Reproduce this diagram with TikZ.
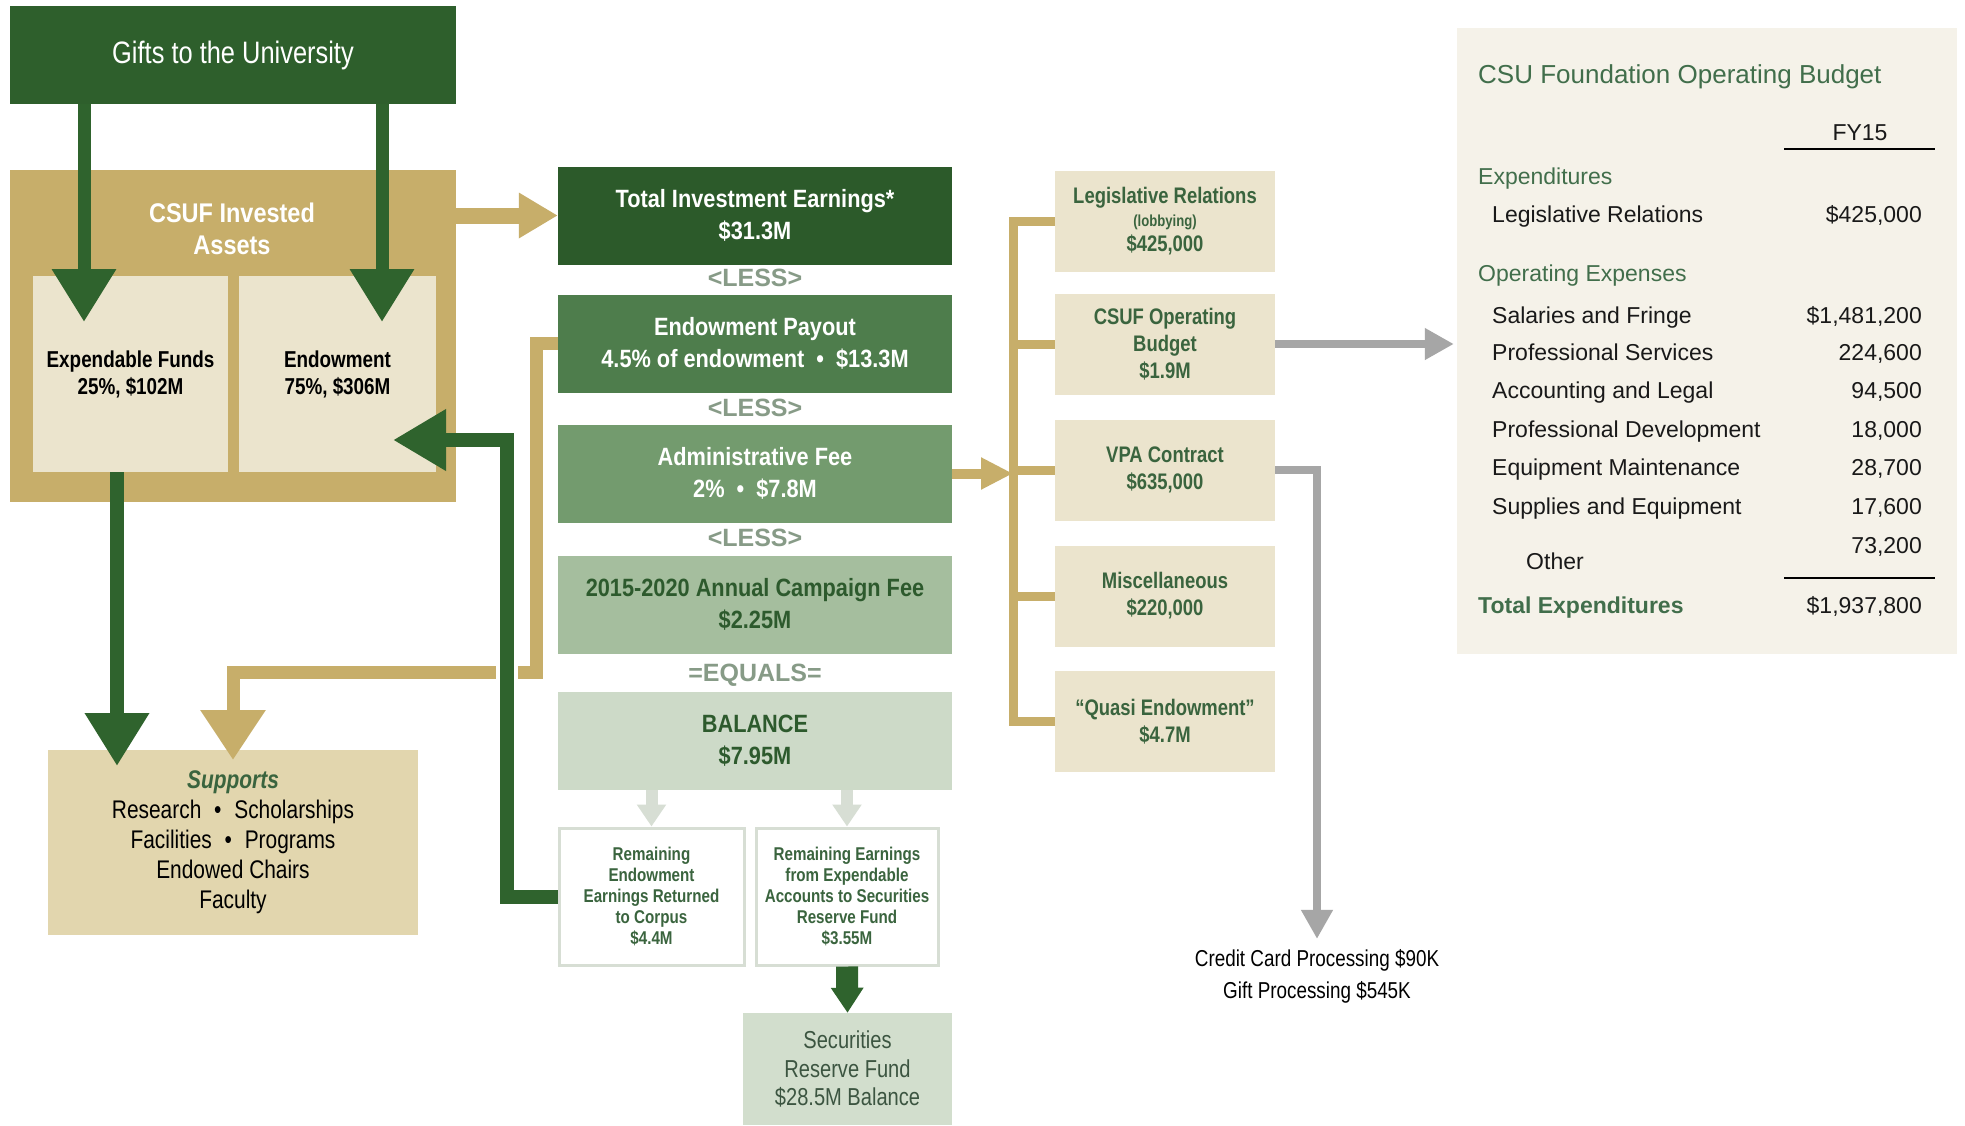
\documentclass[tikz,border=0pt]{standalone}
\usepackage{fontspec}
\setmainfont{Liberation Sans}[FakeStretch=0.82]
\newfontfamily\widefont{Liberation Sans}[FakeStretch=0.87]
\newfontfamily\tablefont{Liberation Sans}
\usetikzlibrary{arrows.meta}

\definecolor{giftgreen}{HTML}{2E5F2C}
\definecolor{totalgreen}{HTML}{2C5A2A}
\definecolor{payoutgreen}{HTML}{4E7D4C}
\definecolor{feegreen}{HTML}{739B6E}
\definecolor{campgreen}{HTML}{A5BE9E}
\definecolor{balgreen}{HTML}{CDDAC8}
\definecolor{resgreen}{HTML}{D2DECD}
\definecolor{arrowgreen}{HTML}{2F632D}
\definecolor{goldtan}{HTML}{C7AE6A}
\definecolor{cream}{HTML}{EBE4CD}
\definecolor{supbeige}{HTML}{E2D6AE}
\definecolor{panel}{HTML}{F5F2E9}
\definecolor{lessgray}{HTML}{879B87}
\definecolor{arrowgray}{HTML}{A6A6A6}
\definecolor{palegray}{HTML}{D7DED4}
\definecolor{textgreen}{HTML}{3A643E}
\definecolor{darkgreen}{HTML}{2D5A2D}
\definecolor{tablegreen}{HTML}{416E4B}
\definecolor{reservetext}{HTML}{3C5541}

\begin{document}
\begin{tikzpicture}[x=1pt, y=-1pt,
		every node/.style={inner sep=0pt, align=center},
		flowbox/.style={fill=#1, minimum width=394pt, minimum height=98pt},
		whitetext/.style={text=white, font=\widefont\bfseries\fontsize{25}{32}\selectfont},
		darktext/.style={text=darkgreen, font=\widefont\bfseries\fontsize{25}{32}\selectfont},
		lesslabel/.style={text=lessgray, font=\tablefont\bfseries\fontsize{25}{28}\selectfont},
		creambox/.style={fill=cream, minimum width=220pt, minimum height=101pt, text=textgreen,
			font=\bfseries\fontsize{22.5}{27}\selectfont},
		restbox/.style={draw=palegray, line width=3pt, fill=white, minimum height=137pt,
			text=textgreen, font=\bfseries\fontsize{18.5}{21}\selectfont},
		rowtext/.style={text=black!90, font=\tablefont\fontsize{23}{28}\selectfont},
		headtext/.style={text=tablegreen, font=\tablefont\fontsize{23}{28}\selectfont},
		greenarrow/.style={draw=arrowgreen, line width=14pt, -{Triangle[length=53pt,width=61pt]}},
		tanarrow/.style={draw=goldtan, line width=13pt, -{Triangle[length=50pt,width=62pt]}},
		tanline/.style={draw=goldtan, line width=9pt},
		grayarrow/.style={draw=arrowgray, line width=8pt, -{Triangle[length=29pt,width=30pt]}},
		palearrow/.style={draw=palegray, line width=12pt, -{Triangle[length=22pt,width=28pt]}}
	]

	\fill[white] (0,0) rectangle (1965,1125);
	\useasboundingbox (0,0) rectangle (1965,1125);

	% left column
	\node[fill=giftgreen, minimum width=446pt, minimum height=98pt, text=white,
		font=\fontsize{31}{36}\selectfont] (gifts) at (233,55) {Gifts to the University};
	\node[fill=goldtan, minimum width=446pt, minimum height=332pt] (assets) at (233,336) {};
	\node[text=white, font=\widefont\bfseries\fontsize{27}{32}\selectfont] (assetstitle) at (232,229)
		{CSUF Invested\\Assets};
	\node[fill=cream, minimum width=195pt, minimum height=196pt,
		font=\bfseries\fontsize{23}{27}\selectfont] (expend) at (130.5,374)
		{Expendable Funds\\25\%, \$102M};
	\node[fill=cream, minimum width=197pt, minimum height=196pt,
		font=\bfseries\fontsize{23}{27}\selectfont] (endow) at (337.5,374)
		{Endowment\\75\%, \$306M};
	\node[fill=supbeige, minimum width=370pt, minimum height=185pt,
		font=\fontsize{25.5}{30}\selectfont] (supports) at (233,842)
		{{\color{textgreen}\bfseries\itshape Supports}\\
		Research\hspace{7pt} • \hspace{7pt}Scholarships\\
		Facilities\hspace{7pt} • \hspace{7pt}Programs\\
		Endowed Chairs\\Faculty};

	% middle column
	\node[flowbox=totalgreen, whitetext] (total) at (755,215.5)
		{Total Investment Earnings*\\\$31.3M};
	\node[lesslabel] (less1) at (755,278) {<LESS>};
	\node[flowbox=payoutgreen, whitetext] (payout) at (755,343.5)
		{Endowment Payout\\4.5\% of endowment\hspace{6pt} • \hspace{6pt}\$13.3M};
	\node[lesslabel] (less2) at (755,408) {<LESS>};
	\node[flowbox=feegreen, whitetext] (adminfee) at (755,473.5)
		{Administrative Fee\\2\%\hspace{6pt} • \hspace{6pt}\$7.8M};
	\node[lesslabel] (less3) at (755,538) {<LESS>};
	\node[flowbox=campgreen, darktext] (campaign) at (755,604.5)
		{2015-2020 Annual Campaign Fee\\\$2.25M};
	\node[lesslabel] (equals) at (755,675) {=EQUALS=};
	\node[flowbox=balgreen, darktext] (balance) at (755,741) {BALANCE\\\$7.95M};

	\node[restbox, minimum width=185pt] (retcorpus) at (651.5,896.5)
		{Remaining\\Endowment\\Earnings Returned\\to Corpus\\\$4.4M};
	\node[restbox, minimum width=182pt] (retreserve) at (847,896.5)
		{Remaining Earnings\\from Expendable\\Accounts to Securities\\Reserve Fund\\\$3.55M};
	\node[fill=resgreen, minimum width=209pt, minimum height=112pt, text=reservetext,
		font=\fontsize{24.5}{28.5}\selectfont] (reserve) at (847.5,1069)
		{Securities\\Reserve Fund\\\$28.5M Balance};

	% right column
	\node[creambox] (legrel) at (1165,221.5)
		{Legislative Relations\\[-4pt]{\fontsize{16}{17}\selectfont (lobbying)}\\[-2pt]\$425,000};
	\node[creambox] (opbudget) at (1165,344) {CSUF Operating\\Budget\\\$1.9M};
	\node[creambox] (vpa) at (1165,470) {VPA Contract\\\$635,000};
	\node[creambox] (misc) at (1165,596) {Miscellaneous\\\$220,000};
	\node[creambox] (quasi) at (1165,721.5) {“Quasi Endowment”\\\$4.7M};
	\node[font=\fontsize{23}{32}\selectfont] (ccard) at (1317,976)
		{Credit Card Processing \$90K\\Gift Processing \$545K};

	% budget table
	\node[fill=panel, minimum width=500pt, minimum height=626pt] (budget) at (1707,341) {};
	\node[anchor=base west, text=tablegreen, font=\tablefont\fontsize{26}{30}\selectfont]
		(btitle) at (1478,83) {CSU Foundation Operating Budget};
	\node[rowtext, anchor=base] (fy) at (1860,140) {FY15};
	\draw[line width=2pt] (1784,149) coordinate (fyl) -- (1935,149) coordinate (fyr);
	\node[headtext, anchor=base west] (hexp) at (1478,184) {Expenditures};
	\node[headtext, anchor=base west] (hops) at (1478,281) {Operating Expenses};
	\foreach \lbl/\amt/\yy [count=\i] in {
			{Legislative Relations}/{\$425,000}/214,
			{Salaries and Fringe}/{\$1,481,200}/315,
			{Professional Services}/{224,600}/352,
			{Accounting and Legal}/{94,500}/390,
			{Professional Development}/{18,000}/429,
			{Equipment Maintenance}/{28,700}/467,
			{Supplies and Equipment}/{17,600}/506}
		{
			\node[rowtext, anchor=base west] (item\i) at (1492,\yy+8) {\lbl};
			\node[rowtext, anchor=base east] (amt\i) at (1922,\yy+8) {\amt};
		}
	\node[rowtext, anchor=base east] (amtother) at (1922,553) {73,200};
	\node[rowtext, anchor=base west] (itemother) at (1526,569) {Other};
	\draw[line width=2pt] (1784,578) -- (1935,578);
	\node[headtext, anchor=base west, font=\tablefont\bfseries\fontsize{23}{28}\selectfont]
		(htotal) at (1478,613) {Total Expenditures};
	\node[rowtext, anchor=base east] (amttotal) at (1922,613) {\$1,937,800};

	% connectors
	\coordinate (expendin) at (84,322);
	\coordinate (endowin) at (382,322);
	\coordinate (supin) at (117,766);
	\coordinate (supin2) at (233,760);
	\coordinate (tanturn) at (536,672);
	\coordinate (greenturn) at (507,440);
	\coordinate (endowback) at (393,440);
	\coordinate (brk) at (1013,0);

	\draw[draw=goldtan, line width=16pt, -{Triangle[length=39pt,width=43pt]}]
		(assets.east |- total.west) -- (total.west);
	\draw[tanarrow] (payout.west) -| (tanturn) -| (supin2);
	\draw[draw=white, line width=22pt] ([yshift=-10pt]greenturn |- tanturn)
		-- ([yshift=10pt]greenturn |- tanturn);

	\draw[greenarrow, line width=13pt] (gifts.south -| expendin) -- (expendin);
	\draw[greenarrow, line width=13pt] (gifts.south -| endowin) -- (endowin);
	\draw[greenarrow] (expend.south -| supin) -- (supin);
	\draw[greenarrow, -{Triangle[length=53pt,width=58pt]}]
		(retcorpus.west) -| (greenturn) -- (endowback);

	\draw[palearrow] (balance.south -| retcorpus.north) -- (retcorpus.north);
	\draw[palearrow] (balance.south -| retreserve.north) -- (retreserve.north);
	\draw[draw=arrowgreen, line width=22pt, -{Triangle[length=25pt,width=31pt]}]
		(retreserve.south) -- (reserve.north);

	\draw[tanline] (legrel.west) -- (legrel.west -| brk) -- (quasi.west -| brk) -- (quasi.west);
	\foreach \n in {opbudget,vpa,misc}
		\draw[tanline] (\n.west) -- (\n.west -| brk);
	\draw[draw=goldtan, line width=10pt, -{Triangle[length=32pt,width=30pt]}]
		(adminfee.east) -- (adminfee.east -| brk);

	\draw[grayarrow] (opbudget.east) -- ([xshift=-3pt]opbudget.east -| budget.west);
	\draw[grayarrow, shorten >=10pt] (vpa.east) -| (ccard.north);
\end{tikzpicture}
\end{document}
